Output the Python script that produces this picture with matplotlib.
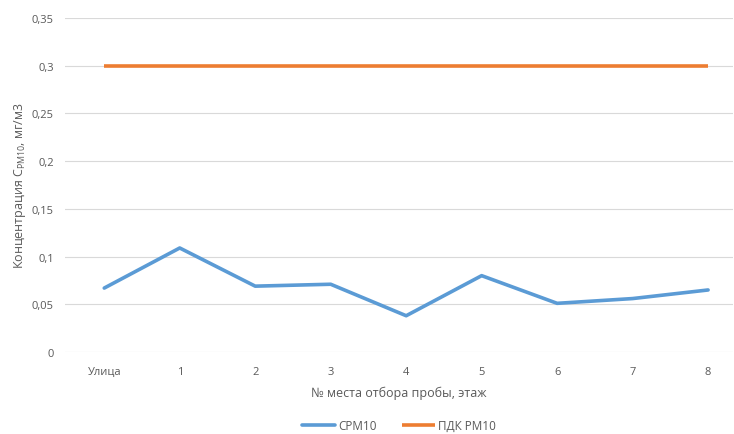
import matplotlib
matplotlib.use('Agg')
import matplotlib.pyplot as plt
from matplotlib.ticker import FuncFormatter

plt.rcParams['font.family'] = ['Open Sans', 'DejaVu Sans']

# данные
categories = ['Улица', '1', '2', '3', '4', '5', '6', '7', '8']
cpm10 = [0.067, 0.109, 0.069, 0.071, 0.038, 0.080, 0.051, 0.056, 0.065]
pdk_pm10 = [0.3, 0.3, 0.3, 0.3, 0.3, 0.3, 0.3, 0.3, 0.3]

fig = plt.figure(figsize=(7.34, 4.35), dpi=100)
ax = fig.add_axes([65/734, 82/435, (733-65)/734, (416-82)/435])

x = range(len(categories))
ax.plot(x, cpm10, color='#5B9BD5', lw=2.6, label='СPM10', solid_capstyle='round')
ax.plot(x, pdk_pm10, color='#ED7D31', lw=2.6, label='ПДК PM10', solid_capstyle='butt')

ax.set_ylim(0, 0.35)
ax.set_xlim(-0.52, 8.33)
ax.set_yticks([0, 0.05, 0.1, 0.15, 0.2, 0.25, 0.3, 0.35])
ax.yaxis.set_major_formatter(FuncFormatter(lambda v, p: ('%g' % round(v, 2)).replace('.', ',')))
ax.set_xticks(list(x))
ax.set_xticklabels(categories)
ax.grid(axis='y', color='#D9D9D9', lw=0.8)
ax.set_axisbelow(True)
for s in ax.spines.values():
    s.set_visible(False)
ax.tick_params(length=0, labelsize=8, colors='#595959', pad=8)
ax.tick_params(axis='x', pad=10)

ax.set_xlabel('№ места отбора пробы, этаж', fontsize=9, color='#595959', labelpad=6)
ax.set_ylabel(r'Концентрация C$_{\mathregular{PM10}}$, мг/м3', fontsize=9, color='#595959', labelpad=3)

leg = ax.legend(loc='center', bbox_to_anchor=(0.5, -0.22), ncol=2, frameon=False,
                fontsize=8.5, handlelength=2.8, columnspacing=2.2, handletextpad=0.2,
                borderpad=0.2)
for t in leg.get_texts():
    t.set_color('#595959')

fig.savefig('out.png', dpi=100)
